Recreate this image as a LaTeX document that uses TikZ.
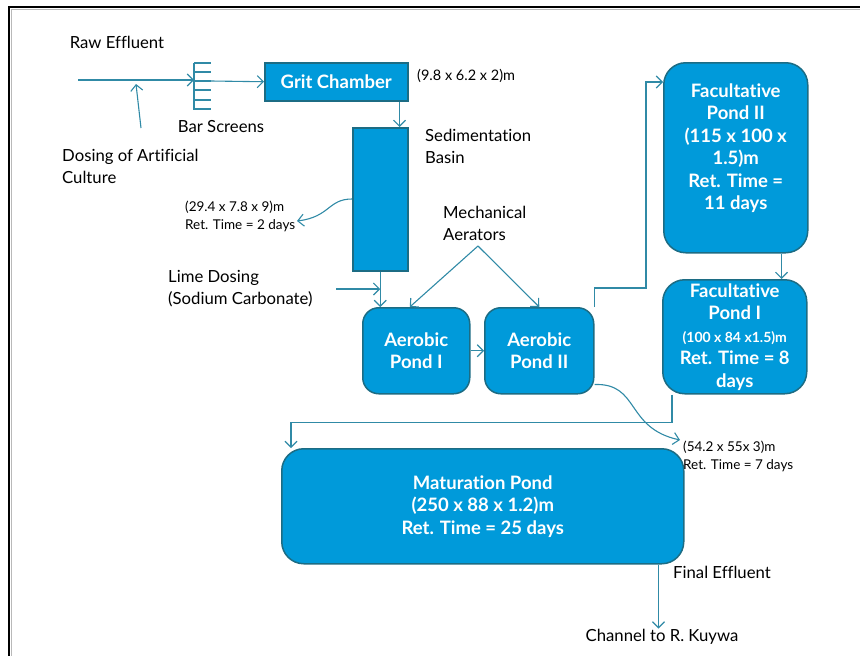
\documentclass[tikz,border=0pt]{standalone}
\usepackage{fontspec}
\setmainfont[Ligatures=NoCommon]{Lato}
\usetikzlibrary{arrows.meta,calc}
\definecolor{pondblue}{RGB}{0,154,218}
\definecolor{pondedge}{RGB}{28,108,132}
\definecolor{flow}{RGB}{48,138,166}

\begin{document}
\begin{tikzpicture}[x=1pt,y=-1pt,
  box/.style={draw=pondedge, line width=1.5pt, fill=pondblue, text=white,
    font=\bfseries\fontsize{18.5}{22.5}\selectfont, align=center, inner sep=0pt,
    anchor=north west},
  pond/.style={box, rounded corners=16pt},
  bigpond/.style={box, rounded corners=22pt},
  flowline/.style={draw=flow, line width=1.1pt,
    -{Straight Barb[length=6pt,width=12pt,line width=1.1pt]}},
  plain/.style={draw=flow, line width=1.1pt},
  lbl/.style={font=\fontsize{16.7}{22}\selectfont, align=left, inner sep=0pt},
  small/.style={font=\fontsize{13.5}{18}\selectfont, align=left, inner sep=0pt}]

\useasboundingbox (0,0) rectangle (860,656);

% page frame
\draw[gray!55, line width=1pt] (11.5,656) -- (11.5,9.5) -- (860,9.5);
\draw[black, line width=2pt] (9,656) -- (9,7) -- (860,7);

% treatment units
\node[box, minimum width=143pt, minimum height=38pt] (grit) at (264,62) {Grit Chamber};
\node[box, minimum width=55pt, minimum height=143pt] (sed) at (352,127) {};
\node[pond, minimum width=107pt, minimum height=86pt] (aer1) at (362,307) {Aerobic\\Pond I};
\node[pond, minimum width=109pt, minimum height=86pt] (aer2) at (484,307) {Aerobic\\Pond II};
\node[bigpond, minimum width=144pt, minimum height=190pt] (fac2) at (663,62)
  {Facultative\\Pond II\\(115 x 100 x\\1.5)m\\Ret. Time =\\11 days\\~};
\node[bigpond, minimum width=144pt, minimum height=114pt] (fac1) at (662,279)
  {Facultative\\Pond I\\{\fontsize{14}{20}\selectfont (100 x 84 x1.5)m}\\Ret. Time = 8\\days};
\node[bigpond, minimum width=402pt, minimum height=115pt] (mat) at (281,448)
  {Maturation Pond\\(250 x 88 x 1.2)m\\Ret. Time = 25 days};

% labels
\node[lbl] (raw) at (117,42) {Raw Effluent};
\node[lbl] (bars) at (221,127) {Bar Screens};
\node[lbl, anchor=west] (dosing) at (62,166.5) {Dosing of Artificial\\Culture};
\node[lbl, anchor=west] (sedlbl) at (425,146.5) {Sedimentation\\Basin};
\node[lbl, anchor=west] (lime) at (168,289) {Lime Dosing\\(Sodium Carbonate)};
\node[lbl, anchor=west] (mech) at (443,223) {Mechanical\\Aerators};
\node[lbl, anchor=west] (final) at (673,572) {Final Effluent};
\node[lbl] (channel) at (662,637) {Channel to R. Kuywa};
\node[small, anchor=west, font=\fontsize{14.5}{18}\selectfont] (gritdim) at (417,76) {(9.8 x 6.2 x 2)m};
\node[small, anchor=west] (seddim) at (185,216) {(29.4 x 7.8 x 9)m\\Ret. Time = 2 days};
\node[small, anchor=west] (aerdim) at (683,456) {(54.2 x 55x 3)m\\Ret. Time = 7 days};

% free ends of connectors
\coordinate (inlet) at (78,80);
\coordinate (screen) at (194,80);
\coordinate (dosefoot) at (141,128);
\coordinate (dosetip) at (136,84);
\coordinate (limefoot) at (336,289);
\coordinate (apex) at (478,246);
\coordinate (sedtip) at (297,221);
\coordinate (aertip) at (680,440);

% bar screens
\draw[plain] (194,63) -- (194,110);
\foreach \yy in {63,72,81,90,100,109}
  \draw[plain] (194,\yy) -- (211,\yy);

% flow connectors
\draw[flowline] (inlet) -- (screen);
\draw[flowline] (211,81) -- (grit.west);
\draw[flowline] (dosefoot) -- (dosetip);
\draw[flowline] ($(grit.south east)+(-9,0)$) -- ($(sed.north east)+(-9,0)$);
\draw[flowline] ($(sed.north west)+(0,72)$) .. controls (328,199) and (330,217) .. (sedtip);
\draw[flowline] (sed.south) -- (sed.south |- aer1.north);
\draw[flowline] (limefoot) -- (limefoot -| sed.south);
\draw[flowline] (apex) -- ($(aer1.north)+(-6.5,0)$);
\draw[flowline] (apex) -- (aer2.north);
\draw[flowline] (aer1.east) -- (aer2.west);
\draw[flowline] (aer2.north east) -- ++(0,-19) -| ($(fac2.north west)+(-17,20)$)
  -- ($(fac2.north west)+(0,20)$);
\draw[flowline] ($(fac2.south east)+(-27,0)$) -- ($(fac1.north east)+(-26,0)$);
\draw[flowline] ($(aer2.south east)+(0,-10)$) .. controls (640,383) and (625,428) .. (aertip);
\draw[flowline] ($(fac1.south west)+(10,0)$) -- ++(0,28) -| ($(mat.north west)+(10,0)$);
\draw[flowline] ($(mat.south east)+(-26,0)$) -- ++(0,64);

\end{tikzpicture}
\end{document}
